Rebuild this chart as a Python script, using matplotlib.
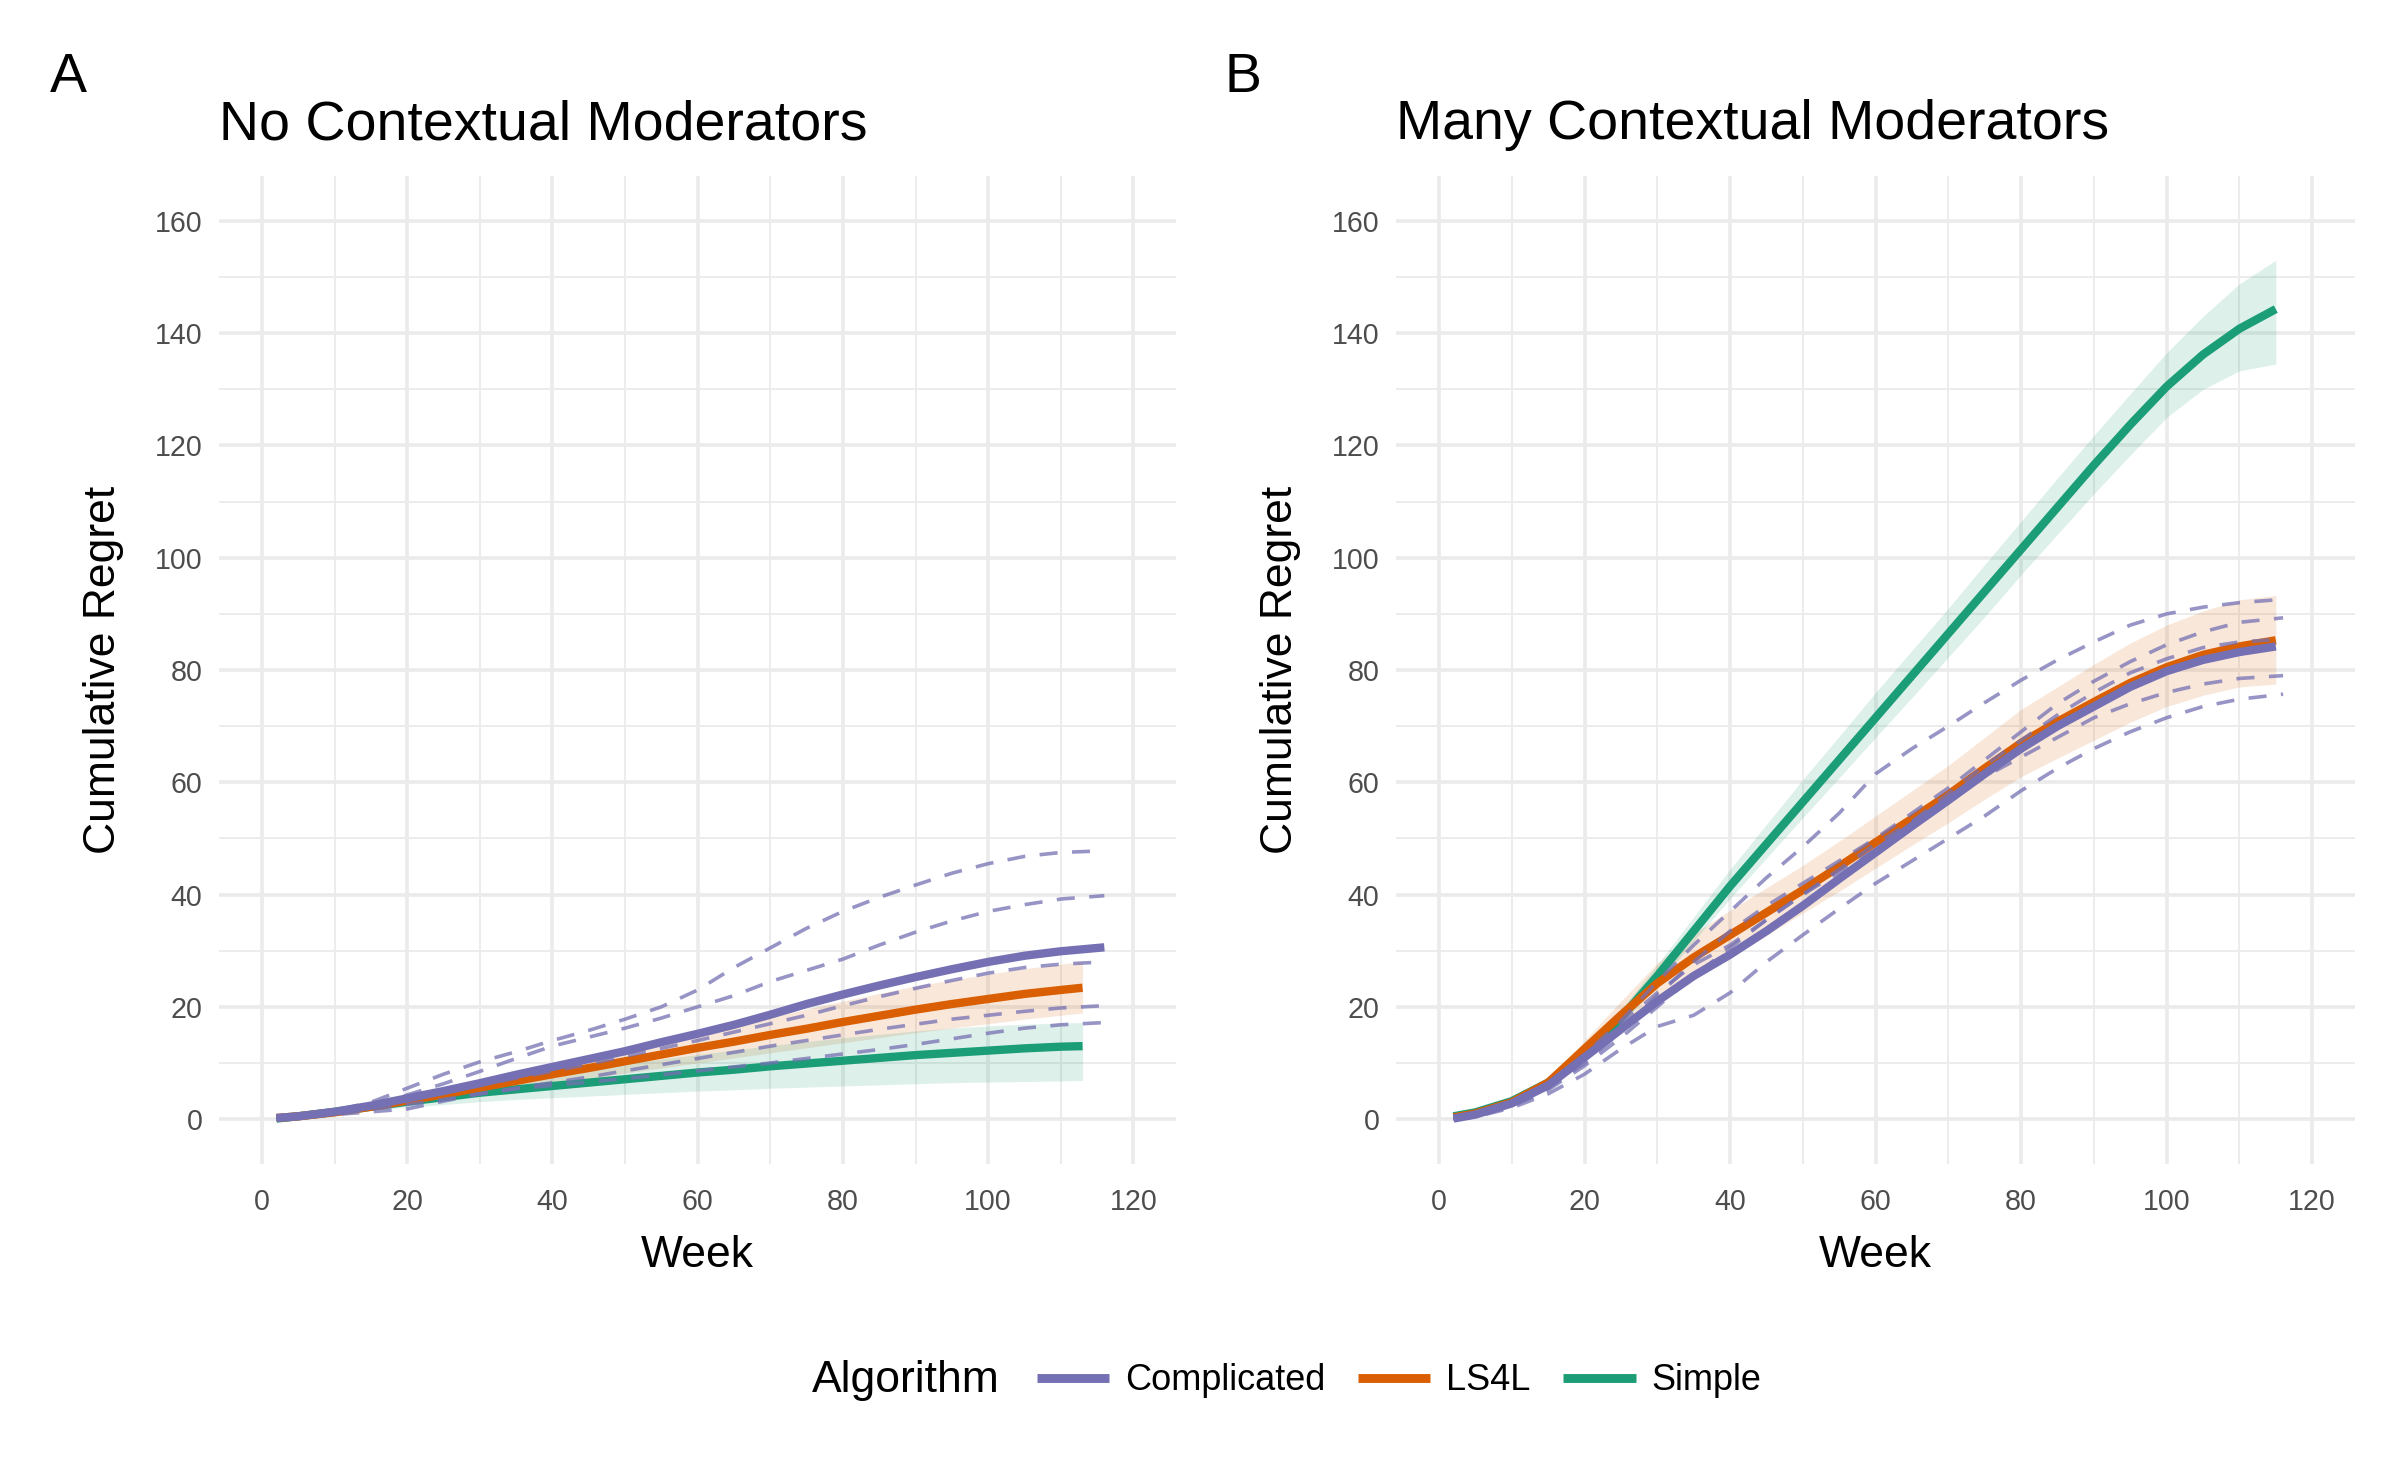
import numpy as np
import matplotlib
matplotlib.use("Agg")
import matplotlib.pyplot as plt
from matplotlib.lines import Line2D

plt.rcParams['font.family'] = ['Liberation Sans', 'DejaVu Sans']

# ---- data ----
weeks = [2, 5, 10, 15, 20, 25, 30, 35, 40, 45, 50, 55, 60, 65, 70, 75, 80, 85, 90, 95, 100, 105, 110, 116]
weeks_a_short = [2, 5, 10, 15, 20, 25, 30, 35, 40, 45, 50, 55, 60, 65, 70, 75, 80, 85, 90, 95, 100, 105, 110, 113]
weeks_b = [2, 5, 10, 15, 20, 25, 30, 35, 40, 45, 50, 55, 60, 65, 70, 75, 80, 85, 90, 95, 100, 105, 110, 115]

# panel A: no contextual moderators
a_complicated = [0.2, 0.5, 1.3, 2.4, 3.7, 5.0, 6.4, 7.9, 9.3, 10.7, 12.1, 13.7, 15.2, 16.8, 18.6, 20.5, 22.2, 23.8, 25.3, 26.7, 28.0, 29.1, 29.9, 30.6]
a_ls4l = [0.2, 0.5, 1.2, 2.2, 3.3, 4.4, 5.6, 6.8, 8.0, 9.1, 10.3, 11.5, 12.7, 13.8, 15.0, 16.1, 17.3, 18.4, 19.5, 20.5, 21.4, 22.3, 23.0, 23.4]
a_ls4l_lo = [0.2, 0.5, 1.1, 2.0, 2.9, 3.8, 4.6, 5.5, 6.4, 7.2, 8.2, 9.1, 10.0, 10.9, 11.8, 12.7, 13.6, 14.5, 15.4, 16.2, 17.0, 17.8, 18.5, 18.9]
a_ls4l_hi = [0.3, 0.6, 1.4, 2.5, 3.8, 5.1, 6.6, 8.1, 9.6, 11.0, 12.5, 14.0, 15.4, 16.8, 18.2, 19.6, 21.0, 22.4, 23.7, 24.8, 25.8, 26.8, 27.6, 28.1]
a_simple = [0.1, 0.5, 1.3, 2.2, 3.1, 3.9, 4.7, 5.3, 5.9, 6.5, 7.1, 7.7, 8.3, 8.8, 9.4, 9.9, 10.4, 10.9, 11.4, 11.8, 12.2, 12.6, 12.9, 13.0]
a_simple_lo = [0.1, 0.4, 1.0, 1.6, 2.1, 2.6, 3.1, 3.5, 3.8, 4.1, 4.4, 4.7, 5.0, 5.2, 5.5, 5.7, 5.9, 6.1, 6.3, 6.5, 6.6, 6.7, 6.8, 6.9]
a_simple_hi = [0.2, 0.6, 1.6, 2.8, 4.1, 5.3, 6.4, 7.3, 8.2, 9.1, 9.9, 10.7, 11.5, 12.3, 13.1, 13.8, 14.5, 15.1, 15.7, 16.2, 16.6, 16.9, 17.1, 17.2]
a_runs = [
    [0.0, 0.5, 1.5, 3.0, 5.5, 8.0, 10.2, 12.0, 14.0, 15.8, 17.8, 20.0, 23.0, 27.0, 30.5, 34.0, 37.0, 39.5, 41.7, 43.8, 45.5, 46.8, 47.5, 47.8],
    [0.0, 0.4, 1.3, 2.6, 4.3, 6.3, 8.5, 10.8, 13.0, 14.6, 16.2, 18.0, 20.0, 22.0, 24.5, 26.5, 28.5, 31.0, 33.3, 35.3, 37.0, 38.2, 39.2, 39.8],
    [0.0, 0.4, 1.2, 2.3, 3.5, 4.8, 6.0, 7.3, 8.5, 9.8, 11.2, 12.6, 14.0, 15.5, 17.0, 18.5, 20.2, 21.8, 23.3, 24.7, 26.0, 27.0, 27.6, 28.0],
    [0.0, 0.3, 1.0, 1.8, 2.6, 3.5, 4.5, 5.5, 6.5, 7.5, 8.6, 9.7, 10.8, 11.9, 13.0, 14.0, 15.0, 16.0, 16.9, 17.8, 18.5, 19.2, 19.8, 20.2],
    [0.0, 0.3, 0.8, 1.3, 1.8, 3.2, 4.5, 5.4, 6.0, 6.6, 7.2, 7.9, 8.6, 9.3, 10.0, 10.8, 11.6, 12.4, 13.3, 14.3, 15.3, 16.2, 16.8, 17.2],
]

# panel B: many contextual moderators
b_complicated = [0.1, 0.8, 2.8, 6.0, 11.0, 16.0, 21.0, 25.5, 29.3, 33.5, 38.0, 42.8, 47.5, 52.2, 56.8, 61.5, 66.0, 70.0, 73.5, 77.0, 79.8, 81.8, 83.2, 84.2]
b_ls4l = [0.3, 1.0, 3.0, 6.5, 12.5, 18.5, 24.2, 28.8, 32.8, 36.8, 40.8, 45.0, 49.3, 53.5, 57.8, 62.5, 67.0, 70.8, 74.3, 77.7, 80.5, 82.7, 84.2, 85.3]
b_ls4l_lo = [0.2, 0.8, 2.6, 5.8, 11.0, 16.3, 20.8, 25.0, 28.8, 32.7, 36.7, 40.6, 44.7, 48.8, 52.8, 57.0, 61.0, 64.3, 67.5, 70.7, 73.5, 75.5, 77.0, 77.5]
b_ls4l_hi = [0.4, 1.2, 3.4, 7.2, 14.0, 21.0, 27.8, 33.0, 37.2, 41.2, 45.2, 49.5, 54.0, 58.5, 63.0, 68.0, 73.0, 77.0, 81.0, 84.8, 88.0, 90.5, 92.5, 93.3]
b_simple = [0.5, 1.2, 3.2, 6.5, 11.5, 18.0, 25.5, 33.5, 41.5, 49.0, 56.5, 64.0, 71.5, 79.0, 86.5, 94.0, 101.5, 109.0, 116.5, 123.7, 130.5, 136.2, 140.8, 144.3]
b_simple_lo = [0.4, 1.0, 2.8, 5.9, 10.6, 16.8, 24.0, 31.7, 39.3, 46.5, 53.7, 60.8, 68.0, 75.1, 82.3, 89.5, 97.0, 104.2, 111.4, 118.3, 125.0, 130.0, 133.3, 134.5]
b_simple_hi = [0.6, 1.4, 3.6, 7.2, 12.5, 19.5, 27.5, 36.0, 44.5, 52.5, 60.5, 68.2, 76.0, 83.5, 91.0, 98.8, 106.5, 114.2, 121.8, 129.2, 136.5, 143.0, 148.8, 153.0]
b_runs = [
    [0.0, 0.8, 3.0, 6.3, 11.5, 17.5, 24.5, 31.0, 37.0, 43.0, 48.5, 54.5, 61.5, 66.0, 70.0, 74.2, 78.2, 81.8, 85.0, 88.0, 90.0, 91.2, 92.0, 92.6],
    [0.0, 0.6, 2.5, 5.5, 10.0, 15.5, 22.0, 28.0, 33.5, 38.0, 42.0, 46.0, 50.0, 54.5, 59.0, 64.0, 69.0, 74.0, 78.0, 81.5, 84.5, 86.8, 88.5, 89.3],
    [0.0, 0.5, 2.3, 5.2, 9.5, 14.5, 20.0, 25.5, 30.5, 35.5, 40.0, 44.5, 49.0, 53.0, 57.0, 61.0, 64.5, 68.0, 71.5, 74.0, 76.0, 77.5, 78.5, 79.0],
    [0.0, 0.4, 2.0, 4.5, 8.0, 12.5, 16.5, 18.5, 22.5, 28.0, 32.8, 37.5, 42.0, 46.0, 50.0, 54.0, 58.5, 62.5, 66.0, 69.0, 71.5, 73.5, 74.8, 75.7],
    [0.0, 0.7, 2.7, 6.0, 11.0, 17.0, 22.5, 27.5, 31.0, 35.5, 40.0, 44.0, 48.0, 53.0, 58.0, 63.0, 67.5, 72.0, 76.0, 79.5, 82.0, 84.0, 85.0, 85.5],
]

algorithms = ["Complicated", "LS4L", "Simple"]
colors = {"Complicated": "#7570B3", "LS4L": "#D95F02", "Simple": "#1B9E77"}
titles = ["No Contextual Moderators", "Many Contextual Moderators"]
tags = ["A", "B"]

fig = plt.figure(figsize=(12, 7.415), dpi=200)
ax_a = fig.add_axes([0.0913, 0.2151, 0.3988, 0.6662])
ax_b = fig.add_axes([0.5817, 0.2151, 0.3996, 0.6662])


def style_axes(ax):
    ax.set_xlim(-5.9, 125.9)
    ax.set_ylim(-8, 168)
    ax.set_xticks(np.arange(0, 121, 20))
    ax.set_xticks(np.arange(10, 111, 20), minor=True)
    ax.set_yticks(np.arange(0, 161, 20))
    ax.set_yticks(np.arange(10, 151, 20), minor=True)
    ax.grid(which='major', color='#EBEBEB', lw=1.3)
    ax.grid(which='minor', color='#EBEBEB', lw=0.65)
    ax.set_axisbelow(True)
    for s in ax.spines.values():
        s.set_visible(False)
    ax.tick_params(which='both', length=0)
    ax.tick_params(axis='both', labelsize=10.3, labelcolor='#4D4D4D')
    ax.tick_params(axis='x', pad=8.5)
    ax.tick_params(axis='y', pad=6)
    ax.set_xlabel("Week", fontsize=16, labelpad=7)
    ax.set_ylabel("Cumulative Regret", fontsize=16, labelpad=11)


def draw_panel(ax, w_comp, comp, w_ls, ls, ls_lo, ls_hi, w_si, si, si_lo, si_hi, w_runs, runs):
    ax.fill_between(w_ls, ls_lo, ls_hi, color=colors["LS4L"], alpha=0.15, lw=0)
    ax.fill_between(w_si, si_lo, si_hi, color=colors["Simple"], alpha=0.15, lw=0)
    ax.plot(w_si, si, color=colors["Simple"], lw=3, solid_capstyle='butt')
    ax.plot(w_ls, ls, color=colors["LS4L"], lw=3, solid_capstyle='butt')
    ax.plot(w_comp, comp, color=colors["Complicated"], lw=3, solid_capstyle='butt')
    for r in runs:
        ax.plot(w_runs, r, color=colors["Complicated"], lw=1.3, alpha=0.75,
                dashes=(5, 4))


draw_panel(ax_a, weeks, a_complicated, weeks_a_short, a_ls4l, a_ls4l_lo, a_ls4l_hi,
           weeks_a_short, a_simple, a_simple_lo, a_simple_hi, weeks, a_runs)
draw_panel(ax_b, weeks_b, b_complicated, weeks_b, b_ls4l, b_ls4l_lo, b_ls4l_hi,
           weeks_b, b_simple, b_simple_lo, b_simple_hi, weeks, b_runs)

for ax, title, tag, x0, tx in zip([ax_a, ax_b], titles, tags, [0.0913, 0.5817], [0.0208, 0.5104]):
    style_axes(ax)
    fig.text(x0, 0.906, title, fontsize=20, ha='left', va='baseline')
    fig.text(tx, 0.938, tag, fontsize=20, ha='left', va='baseline')

handles = [Line2D([0], [0], color=colors[a], lw=3.2, solid_capstyle='butt') for a in algorithms]
fig.legend(handles, algorithms, loc='center', bbox_to_anchor=(0.583, 0.069), ncol=3,
           frameon=False, fontsize=13, handlelength=2.0, handletextpad=0.45,
           columnspacing=0.9, borderpad=0)
fig.text(0.3383, 0.069, "Algorithm", fontsize=16, ha='left', va='center')

fig.savefig("out.png", dpi=200, facecolor='white')
